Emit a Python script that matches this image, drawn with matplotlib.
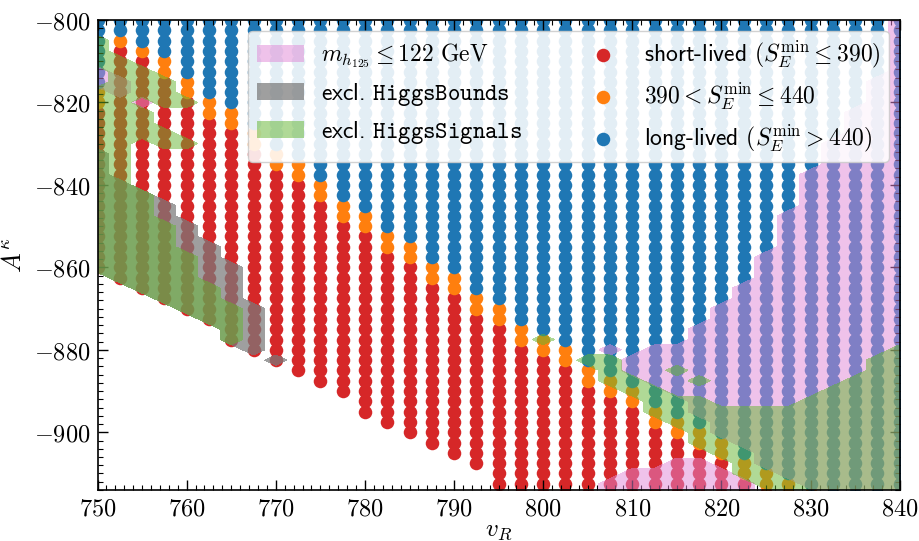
import numpy as np
import matplotlib
matplotlib.use("Agg")
import matplotlib.pyplot as plt
from matplotlib.patches import Patch
from matplotlib.ticker import MultipleLocator, FuncFormatter

plt.rcParams["mathtext.fontset"] = "cm"

# Scan columns in v_R and, per column, the lowest point, the lowest orange
# point and the lowest blue point (A^kappa values).
v_cols = [750, 752.5, 755, 757.5, 760, 762.5, 765, 767.5, 770, 772.5,
          775, 777.5, 780, 782.5, 785, 787.5, 790, 792.5, 795, 797.5,
          800, 802.5, 805, 807.5, 810, 812.5, 815, 817.5, 820, 822.5,
          825, 827.5, 830, 832.5, 835, 837.5, 840]
a_bottom = [-860, -862.5, -865, -867.5, -870, -872.5, -877.5, -880, -882.5, -885,
            -887.5, -890, -895, -897.5, -900, -902.5, -905, -907.5, -912.5, -915,
            -915, -915, -915, -915, -915, -915, -915, -915, -915, -915,
            -915, -915, -915, -915, -915, -915, -915]
a_orange_lo = [-820, -805, -807.5, -812.5, -817.5, -822.5, -825, -830, -835, -837.5,
               -842.5, -847.5, -850, -855, -857.5, -862.5, -865, -870, -872.5, -877.5,
               -880, -882.5, -887.5, -890, -892.5, -897.5, -900, -902.5, -905, -910,
               -912.5, -915, -915, -915, -915, -915, -915]
a_blue_lo = [-815, -802.5, -805, -807.5, -812.5, -817.5, -820, -825, -830, -832.5,
             -837.5, -842.5, -845, -850, -852.5, -857.5, -860, -865, -867.5, -872.5,
             -875, -877.5, -882.5, -885, -887.5, -892.5, -895, -897.5, -900, -905,
             -907.5, -910, -912.5, -915, -915, -915, -915]
a_step = 2.5

# Shaded regions, as vertical runs on the scan grid: column, lowest A, highest A.
pink_col = [750, 752.5, 755, 807.5, 807.5, 810, 810, 812.5, 812.5, 815, 815,
            817.5, 817.5, 820, 820, 822.5, 822.5, 825, 827.5, 830, 832.5, 835, 837.5, 840]
pink_lo = [-815, -817.5, -820, -880, -915, -885, -915, -887.5, -915, -890, -915,
           -895, -915, -900, -915, -902.5, -915, -907.5, -910, -912.5, -915, -915, -915, -915]
pink_hi = [-812.5, -815, -820, -880, -912.5, -882.5, -910, -880, -910, -880, -907.5,
           -875, -907.5, -870, -910, -865, -912.5, -857.5, -847.5, -837.5, -830, -822.5, -815, -800]

grey_col = [750, 752.5, 755, 757.5, 760, 762.5, 765, 767.5, 770, 805]
grey_lo = [-860, -862.5, -865, -867.5, -870, -872.5, -877.5, -880, -882.5, -915]
grey_hi = [-832.5, -840, -842.5, -845, -850, -855, -860, -870, -882.5, -915]

green_col = [750, 750, 752.5, 755, 755, 755, 757.5, 757.5, 757.5, 760, 760, 760,
             762.5, 765, 800, 805, 807.5, 810, 812.5, 815, 815, 817.5, 817.5,
             820, 822.5, 825, 827.5, 830, 832.5, 835, 837.5, 840]
green_lo = [-810, -860, -862.5, -817.5, -827.5, -865, -820, -830, -867.5, -820, -830, -870,
            -872.5, -877.5, -877.5, -882.5, -887.5, -890, -895, -897.5, -885, -902.5, -887.5,
            -905, -910, -912.5, -915, -915, -915, -915, -915, -915]
green_hi = [-805, -817.5, -810, -812.5, -822.5, -842.5, -815, -827.5, -850, -820, -830, -857.5,
            -865, -870, -877.5, -882.5, -882.5, -887.5, -890, -892.5, -885, -892.5, -887.5,
            -895, -895, -895, -895, -892.5, -890, -887.5, -882.5, -880]

a_grid = np.arange(-915, -800 + a_step / 2, a_step)


def regionMask(cols, lo, hi):
	m = np.zeros((len(a_grid), len(v_cols)))
	for c, l, h in zip(cols, lo, hi):
		i = v_cols.index(c)
		m[(a_grid >= l - 0.1) & (a_grid <= h + 0.1), i] = 1
	return m


# Collect the scan points per category.
pts = {"red": ([], []), "orange": ([], []), "blue": ([], [])}
for i, v in enumerate(v_cols):
	for a in a_grid[a_grid >= a_bottom[i] - 0.1]:
		if a >= a_blue_lo[i] - 0.1:
			key = "blue"
		elif a >= a_orange_lo[i] - 0.1:
			key = "orange"
		else:
			key = "red"
		pts[key][0].append(v)
		pts[key][1].append(a)

fig = plt.figure(figsize=(9.2, 5.41), dpi=100)
ax = fig.add_axes([0.106, 0.0943, 0.872, 0.8687])

colors = {"red": "#d62728", "orange": "#ff7f0e", "blue": "#1f77b4"}
labels = {"red": r"short-lived $(S_E^{\mathrm{min}} \leq 390)$",
          "orange": r"$390 < S_E^{\mathrm{min}} \leq 440$",
          "blue": r"long-lived $(S_E^{\mathrm{min}} > 440)$"}
handles_pts = []
for key in ["red", "orange", "blue"]:
	h = ax.scatter(pts[key][0], pts[key][1], s=95, color=colors[key], linewidths=0,
	               label=labels[key], zorder=1)
	handles_pts.append(h)

pink = "#e087d6"
grey = "#7a7a7a"
green = "#62b52e"
pink_alpha, grey_alpha, green_alpha = 0.5, 0.72, 0.5
ax.contourf(v_cols, a_grid, regionMask(pink_col, pink_lo, pink_hi), levels=[0.5, 1.5],
            colors=[pink], alpha=pink_alpha, zorder=2)
ax.contourf(v_cols, a_grid, regionMask(grey_col, grey_lo, grey_hi), levels=[0.5, 1.5],
            colors=[grey], alpha=grey_alpha, zorder=2)
ax.contourf(v_cols, a_grid, regionMask(green_col, green_lo, green_hi), levels=[0.5, 1.5],
            colors=[green], alpha=green_alpha, zorder=2)

handles_reg = [Patch(facecolor=pink, alpha=pink_alpha, edgecolor="none", label=r"$m_{h_{125}} \leq 122\ \mathrm{GeV}$"),
               Patch(facecolor=grey, alpha=grey_alpha, edgecolor="none", label=r"excl. $\mathtt{HiggsBounds}$"),
               Patch(facecolor=green, alpha=green_alpha, edgecolor="none", label=r"excl. $\mathtt{HiggsSignals}$")]

ax.set_xlim(750, 840)
ax.set_ylim(-914, -800)
ax.xaxis.set_major_locator(MultipleLocator(10))
ax.xaxis.set_minor_locator(MultipleLocator(1))
ax.yaxis.set_major_locator(MultipleLocator(20))
ax.yaxis.set_minor_locator(MultipleLocator(2))
fmt = FuncFormatter(lambda x, pos: r"$%g$" % x)
ax.xaxis.set_major_formatter(fmt)
ax.yaxis.set_major_formatter(fmt)
ax.tick_params(which="both", direction="in", top=True, right=True, labelsize=17.5, pad=5)
ax.tick_params(which="major", length=7, width=1)
ax.tick_params(which="minor", length=3.5, width=0.8)
for s in ax.spines.values():
	s.set_linewidth(1.2)

ax.set_xlabel(r"$v_R$", fontsize=18, labelpad=-2)
ax.set_ylabel(r"$A^\kappa$", fontsize=19, labelpad=5)

leg = ax.legend(handles=handles_reg + handles_pts, ncol=2, loc="upper right",
                prop={"family": "cmss10", "size": 17}, framealpha=0.88, edgecolor="0.8",
                handlelength=2.0, handleheight=0.72, handletextpad=0.75, labelspacing=0.45,
                columnspacing=2.4, borderpad=0.35, borderaxespad=0.45, scatterpoints=1)
leg.set_zorder(5)

fig.savefig("out.png", dpi=100)
